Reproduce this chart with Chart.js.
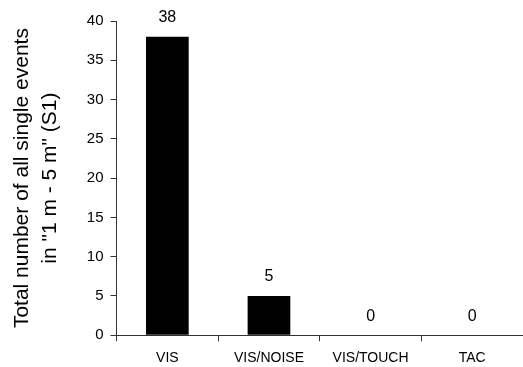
<!DOCTYPE html>
<html>
<head>
<meta charset="utf-8">
<script src="https://cdn.jsdelivr.net/npm/chart.js@4/dist/chart.umd.min.js"></script>
<style>
  body { margin: 0; background: #fff; }
  #wrap { width: 523px; height: 367px; }
</style>
</head>
<body>
<div id="wrap"><canvas id="chart" width="523" height="367"></canvas></div>
<script>
const categories = ['VIS', 'VIS/NOISE', 'VIS/TOUCH', 'TAC'];
const eventCounts = [38, 5, 0, 0];
const yTitleLines = ['Total number of all single events', 'in "1 m - 5 m" (S1)'];

const fontFamily = '"Liberation Sans", Arial, sans-serif';

// value labels drawn above each bar
const valueLabels = {
    id: 'valueLabels',
    afterDatasetsDraw(chart) {
        const ctx = chart.ctx;
        const meta = chart.getDatasetMeta(0);
        ctx.save();
        ctx.font = '16px ' + fontFamily;
        ctx.fillStyle = '#000';
        ctx.textAlign = 'center';
        ctx.textBaseline = 'bottom';
        meta.data.forEach((bar, i) => {
            ctx.fillText(String(eventCounts[i]), bar.x, bar.y - 11);
        });
        ctx.restore();
    }
};

new Chart(document.getElementById('chart').getContext('2d'), {
    type: 'bar',
    data: {
        labels: categories,
        datasets: [{
            data: eventCounts,
            backgroundColor: '#000',
            borderWidth: 0,
            categoryPercentage: 1,
            barPercentage: 0.42
        }]
    },
    options: {
        responsive: false,
        animation: false,
        layout: { padding: { top: 21, right: 0, left: 8, bottom: -9 } },
        plugins: {
            legend: { display: false },
            tooltip: { enabled: false }
        },
        scales: {
            x: {
                grid: {
                    offset: true,
                    drawOnChartArea: false,
                    drawTicks: true,
                    tickLength: 6,
                    color: '#333'
                },
                border: { color: '#333', width: 1 },
                ticks: {
                    color: '#000',
                    font: { family: fontFamily, size: 14 },
                    padding: 9,
                    maxRotation: 0
                }
            },
            y: {
                min: 0,
                max: 40,
                ticks: {
                    stepSize: 5,
                    color: '#000',
                    font: { family: fontFamily, size: 15 },
                    padding: 7
                },
                grid: {
                    drawOnChartArea: false,
                    drawTicks: true,
                    tickLength: 6,
                    color: '#333'
                },
                border: { color: '#333', width: 1 },
                title: {
                    display: true,
                    text: yTitleLines,
                    color: '#000',
                    font: { family: fontFamily, size: 21, lineHeight: 1.33 },
                    padding: { top: 0, bottom: 16 }
                }
            }
        }
    },
    plugins: [valueLabels]
});
</script>
</body>
</html>
